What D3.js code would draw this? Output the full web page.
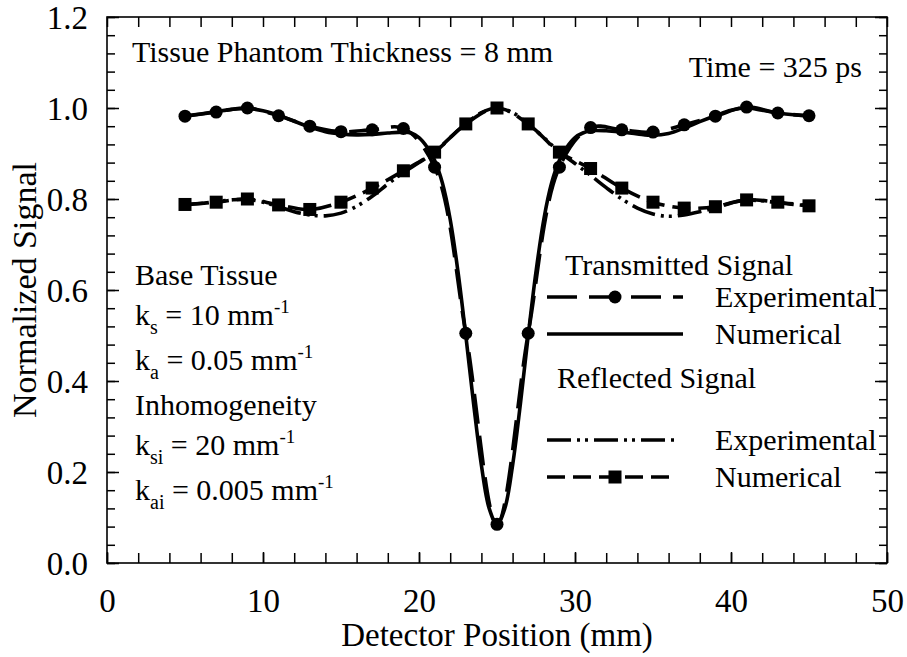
<!DOCTYPE html>
<html><head><meta charset="utf-8">
<script src="https://cdn.jsdelivr.net/npm/d3@7"></script>
<style>body{margin:0;background:#fff}svg{display:block}</style>
</head><body><svg id="c" width="907" height="657"></svg>
<script>
// ---- data ----
const xTicks = [0, 10, 20, 30, 40, 50];
const yTicks = [0.0, 0.2, 0.4, 0.6, 0.8, 1.0, 1.2];

// Transmitted signal, experimental (circles)
const transExpX = [5,7,9,11,13,15,17,19,21,23,25,27,29,31,33,35,37,39,41,43,45];
const transExpY = [0.982,0.991,1.000,0.983,0.960,0.948,0.952,0.955,0.870,0.505,0.085,0.505,0.870,0.957,0.952,0.947,0.963,0.982,1.002,0.989,0.983];

// Transmitted signal, numerical (solid)
const transNumX = [5,6,7,8,9,10,11,12,13,14,15,16,17,18,19,19.5,20,20.5,21,21.5,22,22.5,23,23.5,24,24.5,25,25.5,26,26.5,27,27.5,28,28.5,29,29.5,30,30.5,31,32,33,34,35,36,37,38,39,40,41,42,43,44,45];
const transNumY = [0.982,0.987,0.992,0.997,0.999,0.994,0.984,0.971,0.958,0.948,0.943,0.941,0.942,0.945,0.947,0.945,0.935,0.915,0.885,0.835,0.755,0.640,0.500,0.350,0.215,0.120,0.085,0.120,0.215,0.350,0.500,0.640,0.755,0.835,0.885,0.915,0.935,0.945,0.950,0.950,0.947,0.943,0.940,0.944,0.956,0.970,0.983,0.995,1.000,0.995,0.989,0.985,0.983];

// Reflected signal, experimental (dash-dot-dot)
const reflExpX = [5,6,7,8,9,10,11,12,13,14,15,16,17,18,19,20,21,22,23,24,25,26,27,28,29,30,31,32,33,34,35,36,37,38,39,40,41,42,43,44,45];
const reflExpY = [0.787,0.790,0.794,0.798,0.799,0.793,0.783,0.772,0.765,0.763,0.769,0.784,0.806,0.833,0.858,0.880,0.903,0.935,0.965,0.990,1.000,0.990,0.965,0.935,0.903,0.878,0.852,0.825,0.800,0.780,0.767,0.762,0.765,0.772,0.781,0.792,0.797,0.796,0.792,0.788,0.785];

// Reflected signal, numerical (squares)
const reflNumX = [5,7,9,11,13,15,17,19,21,23,25,27,29,31,33,35,37,39,41,43,45];
const reflNumY = [0.788,0.793,0.800,0.787,0.777,0.793,0.824,0.862,0.903,0.965,1.000,0.965,0.903,0.867,0.824,0.793,0.780,0.783,0.798,0.793,0.785];

// ---- layout ----
const L = 107, R = 887, T = 17, B = 563;
const FONT = "Times New Roman";
const svg = d3.select("#c");
const x = d3.scaleLinear().domain([0, 50]).range([L, R]);
const y = d3.scaleLinear().domain([0, 1.2]).range([B, T]);

const dashTE = "30,12", dashRN = "18,8", dashRE = "24,6,3,5,3,6";
const lw = 3.6;

function styleAxis(g){ g.attr("font-family", null); g.select(".domain").remove(); g.selectAll("line").attr("stroke","#000").attr("stroke-width",1.5); }
const xMinor = d3.range(0, 50.001, 2);
const yMinor = d3.range(0, 1.2001, 0.04);

svg.append("g").attr("transform",`translate(0,${B})`)
  .call(d3.axisBottom(x).tickValues(xMinor).tickSizeInner(-10).tickSizeOuter(0).tickFormat(""))
  .call(styleAxis);
svg.append("g").attr("transform",`translate(0,${T})`)
  .call(d3.axisTop(x).tickValues(xMinor).tickSizeInner(-10).tickSizeOuter(0).tickFormat(""))
  .call(styleAxis);
svg.append("g").attr("transform",`translate(${L},0)`)
  .call(d3.axisLeft(y).tickValues(yMinor).tickSizeInner(-8).tickSizeOuter(0).tickFormat(""))
  .call(styleAxis);
svg.append("g").attr("transform",`translate(${R},0)`)
  .call(d3.axisRight(y).tickValues(yMinor).tickSizeInner(-8).tickSizeOuter(0).tickFormat(""))
  .call(styleAxis);

const gx = svg.append("g").attr("transform",`translate(0,${B})`)
  .call(d3.axisBottom(x).tickValues(xTicks).tickSizeInner(-11).tickSizeOuter(0).tickPadding(26).tickFormat(d3.format("d")))
  .call(styleAxis);
gx.selectAll("text").attr("font-size",33);
const gy = svg.append("g").attr("transform",`translate(${L},0)`)
  .call(d3.axisLeft(y).tickValues(yTicks).tickSizeInner(-12).tickSizeOuter(0).tickPadding(19).tickFormat(d3.format(".1f")))
  .call(styleAxis);
gy.selectAll("text").attr("font-size",33).attr("dy","0.36em");
svg.append("g").attr("transform",`translate(${R},0)`)
  .call(d3.axisRight(y).tickValues(yTicks).tickSizeInner(-12).tickSizeOuter(0).tickFormat(""))
  .call(styleAxis);

svg.append("rect").attr("x",L).attr("y",T).attr("width",R-L).attr("height",B-T)
  .attr("fill","none").attr("stroke","#000").attr("stroke-width",1.6);

const tx = (xx, yy, s, size) => svg.append("text").attr("x",xx).attr("y",yy).attr("font-size",size||30).text(s);

// axis titles
tx((L+R)/2, 646, "Detector Position (mm)", 33).attr("text-anchor","middle");
svg.append("text").attr("transform",`translate(36,${(T+B)/2}) rotate(-90)`).attr("text-anchor","middle").attr("font-size",34).text("Normalized Signal");

// lines
const lineGen = (xs, ys) => d3.line().curve(d3.curveCatmullRom.alpha(0.5)).x((d,i)=>x(xs[i])).y((d,i)=>y(ys[i]))(ys);

svg.append("path").attr("d", lineGen(reflExpX, reflExpY)).attr("fill","none").attr("stroke","#000").attr("stroke-width",lw).attr("stroke-dasharray",dashRE);
svg.append("path").attr("d", lineGen(reflNumX, reflNumY)).attr("fill","none").attr("stroke","#000").attr("stroke-width",lw).attr("stroke-dasharray",dashRN);
svg.append("path").attr("d", lineGen(transNumX, transNumY)).attr("fill","none").attr("stroke","#000").attr("stroke-width",lw);
svg.append("path").attr("d", lineGen(transExpX, transExpY)).attr("fill","none").attr("stroke","#000").attr("stroke-width",lw).attr("stroke-dasharray",dashTE);

const sq = 13;
svg.selectAll("rect.rn").data(reflNumY).enter().append("rect").attr("class","rn")
  .attr("x",(d,i)=>x(reflNumX[i])-sq/2).attr("y",d=>y(d)-sq/2).attr("width",sq).attr("height",sq).attr("fill","#000");
svg.selectAll("circle.te").data(transExpY).enter().append("circle").attr("class","te")
  .attr("cx",(d,i)=>x(transExpX[i])).attr("cy",d=>y(d)).attr("r",6.5).attr("fill","#000");

// annotations
tx(132, 62, "Tissue Phantom Thickness = 8 mm");
tx(862, 77, "Time = 325 ps").attr("text-anchor","end");

function kText(yb, sub, rest){
  const t = svg.append("text").attr("x",135).attr("y",yb).attr("font-size",30);
  t.append("tspan").text("k");
  t.append("tspan").attr("font-size",20).attr("dy",9).text(sub);
  t.append("tspan").attr("dy",-9).text(rest);
  t.append("tspan").attr("font-size",19).attr("dy",-12).text("-1");
}
tx(135, 285, "Base Tissue");
kText(325, "s", " = 10 mm");
kText(370, "a", " = 0.05 mm");
tx(135, 415, "Inhomogeneity");
kText(455, "si", " = 20 mm");
kText(500, "ai", " = 0.005 mm");

// legend
const lgX0 = 547, lgX1 = 683, lgT = 715;
tx(565, 275, "Transmitted Signal");
svg.append("line").attr("x1",lgX0).attr("x2",lgX1).attr("y1",297).attr("y2",297).attr("stroke","#000").attr("stroke-width",lw).attr("stroke-dasharray",dashTE);
svg.append("circle").attr("cx",615).attr("cy",297).attr("r",6.5).attr("fill","#000");
tx(lgT, 307, "Experimental");
svg.append("line").attr("x1",lgX0).attr("x2",lgX1).attr("y1",334).attr("y2",334).attr("stroke","#000").attr("stroke-width",lw);
tx(lgT, 344, "Numerical");

tx(557, 388, "Reflected Signal");
svg.append("line").attr("x1",lgX0).attr("x2",675).attr("y1",440).attr("y2",440).attr("stroke","#000").attr("stroke-width",lw).attr("stroke-dasharray",dashRE);
tx(lgT, 450, "Experimental");
svg.append("line").attr("x1",lgX0).attr("x2",675).attr("y1",477).attr("y2",477).attr("stroke","#000").attr("stroke-width",lw).attr("stroke-dasharray",dashRN);
svg.append("rect").attr("x",615-sq/2).attr("y",477-sq/2).attr("width",sq).attr("height",sq).attr("fill","#000");
tx(lgT, 487, "Numerical");

svg.selectAll("text").attr("font-family", FONT);
</script></body></html>
